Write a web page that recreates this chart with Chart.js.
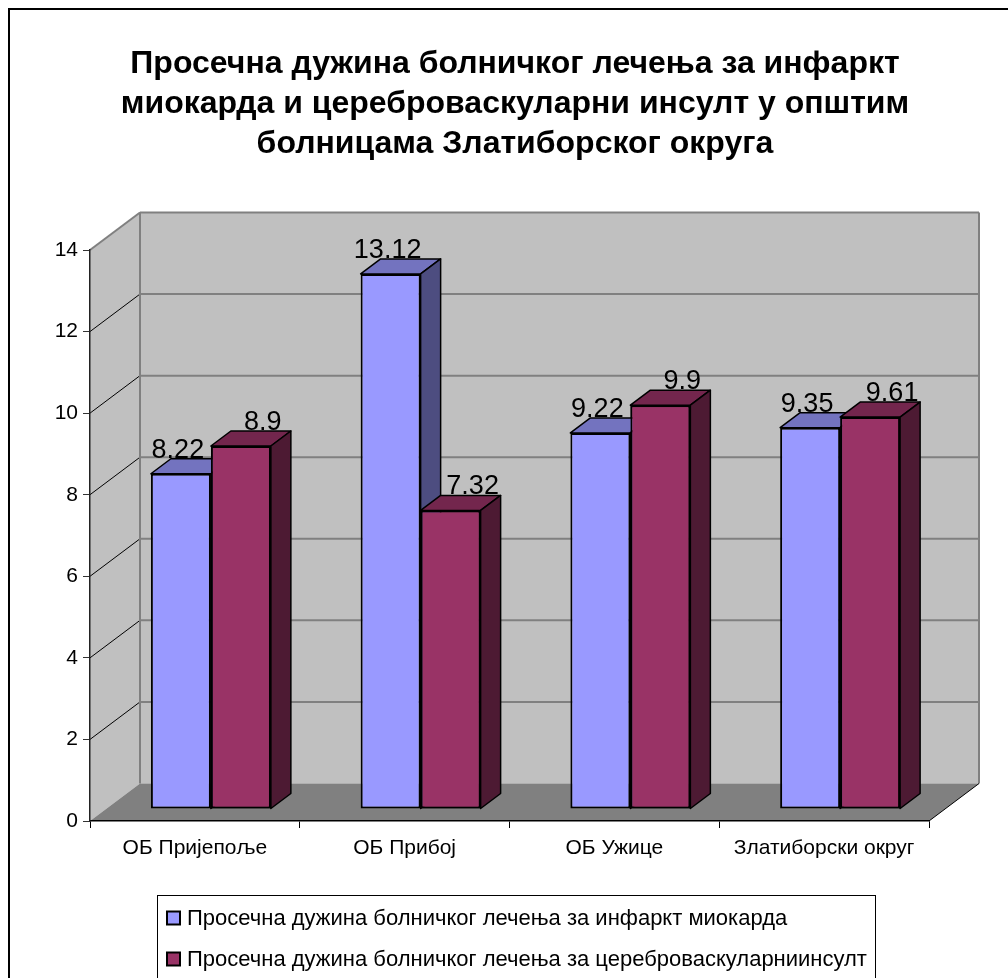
<!DOCTYPE html>
<html lang="sr">
<head>
<meta charset="UTF-8">
<title>Просечна дужина болничког лечења</title>
<script src="https://cdn.jsdelivr.net/npm/chart.js"></script>
<style>
  html, body { margin: 0; padding: 0; background: #fff; }
  #wrap { width: 1008px; height: 978px; }
</style>
</head>
<body>
<div id="wrap"><canvas id="chart" width="1008" height="978"></canvas></div>
<script>
const titleLines = [
    'Просечна дужина болничког лечења за инфаркт',
    'миокарда и цереброваскуларни инсулт у општим',
    'болницама Златиборског округа'
];
const categories = ['ОБ Пријепоље', 'ОБ Прибој', 'ОБ Ужице', 'Златиборски округ'];
const seriesNames = [
    'Просечна дужина болничког лечења за инфаркт миокарда',
    'Просечна дужина болничког лечења за цереброваскуларниинсулт'
];
const infarktValues = [8.22, 13.12, 9.22, 9.35];
const insultValues = [8.9, 7.32, 9.9, 9.61];

const frontColors = ['#9999FF', '#993366'];
const topColors = ['#7373BF', '#73264D'];
const sideColors = ['#4D4D80', '#4D1A33'];

const FONT = "'Liberation Sans', Arial, sans-serif";
const WALL = { dx: 50, dy: -37.5 };     // depth of the plot box
const BAR_SHIFT = { dx: 16, dy: -12 };  // bars stand a little behind the front plane
const BAR_DEPTH = { dx: 20, dy: -15 };
const LABEL_DX = [-3, 22];              // excel puts the value labels a bit off centre

Chart.defaults.font.family = FONT;

function poly(ctx, pts) {
    ctx.beginPath();
    ctx.moveTo(pts[0][0], pts[0][1]);
    for (let i = 1; i < pts.length; i++) ctx.lineTo(pts[i][0], pts[i][1]);
    ctx.closePath();
}

function line(ctx, x1, y1, x2, y2) {
    ctx.beginPath();
    ctx.moveTo(x1, y1);
    ctx.lineTo(x2, y2);
    ctx.stroke();
}

function drawFaces(ctx, bar, s) {
    const p = bar.getProps(['x', 'y', 'base', 'width'], true);
    const l = p.x - p.width / 2, r = p.x + p.width / 2, t = p.y, b = p.base;
    const { dx, dy } = BAR_DEPTH;
    ctx.lineWidth = 1.5;
    ctx.strokeStyle = '#000';
    ctx.lineJoin = 'round';
    ctx.fillStyle = topColors[s];
    poly(ctx, [[l, t], [r, t], [r + dx, t + dy], [l + dx, t + dy]]);
    ctx.fill(); ctx.stroke();
    ctx.fillStyle = sideColors[s];
    poly(ctx, [[r, t], [r + dx, t + dy], [r + dx, b + dy], [r, b]]);
    ctx.fill(); ctx.stroke();
}

const box3d = {
    id: 'box3d',
    beforeDraw(chart) {
        const ctx = chart.ctx;
        const { left, right, top, bottom } = chart.chartArea;
        const yScale = chart.scales.y;
        const { dx, dy } = WALL;
        ctx.save();
        ctx.fillStyle = '#fff';
        ctx.fillRect(0, 0, chart.width, chart.height);
        ctx.strokeStyle = '#000';
        ctx.lineWidth = 2;
        ctx.strokeRect(9, 9, chart.width + 40, chart.height + 40);

        ctx.fillStyle = '#000';
        ctx.font = 'bold 32px ' + FONT;
        ctx.textAlign = 'center';
        ctx.textBaseline = 'alphabetic';
        titleLines.forEach((t, i) => ctx.fillText(t, 515, 73 + i * 40));

        // back wall, side wall, floor
        ctx.fillStyle = '#C0C0C0';
        ctx.fillRect(left + dx, top + dy, right - left, bottom - top);
        poly(ctx, [[left, top], [left + dx, top + dy], [left + dx, bottom + dy], [left, bottom]]);
        ctx.fill();
        ctx.fillStyle = '#808080';
        poly(ctx, [[left, bottom], [right, bottom], [right + dx, bottom + dy], [left + dx, bottom + dy]]);
        ctx.fill();

        yScale.ticks.forEach(t => {
            if (t.value === 0) return;
            const py = yScale.getPixelForValue(t.value);
            ctx.strokeStyle = '#808080';
            ctx.lineWidth = 2;
            line(ctx, left + dx, py + dy, right + dx, py + dy);
            const isTop = t.value === yScale.max;
            ctx.strokeStyle = isTop ? '#808080' : '#000';
            ctx.lineWidth = isTop ? 2 : 1;
            line(ctx, left, py, left + dx, py + dy);
        });
        ctx.strokeStyle = '#808080';
        ctx.lineWidth = 2;
        line(ctx, left + dx, top + dy, left + dx, bottom + dy);
        line(ctx, right + dx, top + dy, right + dx, bottom + dy);
        ctx.strokeStyle = '#000';
        ctx.lineWidth = 1;
        line(ctx, right, bottom, right + dx, bottom + dy);
        ctx.restore();
    },
    beforeDatasetsDraw(chart) {
        chart.ctx.save();
        chart.ctx.translate(BAR_SHIFT.dx, BAR_SHIFT.dy);
    },
    afterDatasetsDraw(chart) {
        const ctx = chart.ctx;
        const metas = [chart.getDatasetMeta(0), chart.getDatasetMeta(1)];
        for (let i = 0; i < categories.length; i++) {
            metas.forEach((m, s) => {
                const bar = m.data[i];
                if (s > 0) bar.draw(ctx);   // redraw so it covers the side of the bar to its left
                drawFaces(ctx, bar, s);
            });
        }
        ctx.font = '27px ' + FONT;
        ctx.fillStyle = '#000';
        ctx.textAlign = 'center';
        ctx.textBaseline = 'alphabetic';
        metas.forEach((m, s) => {
            m.data.forEach((bar, i) => {
                const v = chart.data.datasets[s].data[i];
                const p = bar.getProps(['x', 'y'], true);
                ctx.fillText(String(v), p.x + LABEL_DX[s], p.y + BAR_DEPTH.dy - 1);
            });
        });
        ctx.restore();
    },
    afterDraw(chart) {
        const ctx = chart.ctx;
        ctx.save();
        ctx.strokeStyle = '#000';
        ctx.lineWidth = 1;
        ctx.strokeRect(157.5, 895.5, 718, 120);
        ctx.font = '22px ' + FONT;
        ctx.textAlign = 'left';
        ctx.textBaseline = 'middle';
        seriesNames.forEach((name, s) => {
            const cy = 918 + s * 41;
            ctx.fillStyle = frontColors[s];
            ctx.fillRect(167, cy - 6.5, 13, 13);
            ctx.lineWidth = 2;
            ctx.strokeRect(167, cy - 6.5, 13, 13);
            ctx.fillStyle = '#000';
            ctx.fillText(name, 187, cy + 1);
        });
        ctx.restore();
    }
};

const barStyle = { borderColor: '#000', borderWidth: 2, borderSkipped: false, categoryPercentage: 0.572, barPercentage: 1 };

new Chart(document.getElementById('chart'), {
    type: 'bar',
    data: {
        labels: categories,
        datasets: [
            Object.assign({ label: seriesNames[0], data: infarktValues, backgroundColor: frontColors[0] }, barStyle),
            Object.assign({ label: seriesNames[1], data: insultValues, backgroundColor: frontColors[1] }, barStyle)
        ]
    },
    options: {
        responsive: false,
        animation: false,
        layout: { padding: { top: 250, right: 79, bottom: 117, left: 0 } },
        plugins: {
            legend: { display: false },
            title: { display: false },
            tooltip: { enabled: false }
        },
        scales: {
            x: {
                grid: { display: true, drawOnChartArea: false, drawTicks: true, tickLength: 7, color: '#000', offset: true },
                border: { display: true, color: '#000', width: 1.5 },
                ticks: { color: '#000', font: { size: 21 }, padding: 8, maxRotation: 0, autoSkip: false },
                afterFit(s) { s.height = 40; s.paddingLeft = 0; s.paddingRight = 0; }
            },
            y: {
                min: 0,
                max: 14,
                grid: { display: true, drawOnChartArea: false, drawTicks: true, tickLength: 7, color: '#333' },
                border: { display: true, color: '#222', width: 1.5 },
                ticks: { stepSize: 2, color: '#000', font: { size: 21 }, padding: 5 },
                afterFit(s) { s.width = 90; s.paddingTop = 0; s.paddingBottom = 0; }
            }
        }
    },
    plugins: [box3d]
});
</script>
</body>
</html>
